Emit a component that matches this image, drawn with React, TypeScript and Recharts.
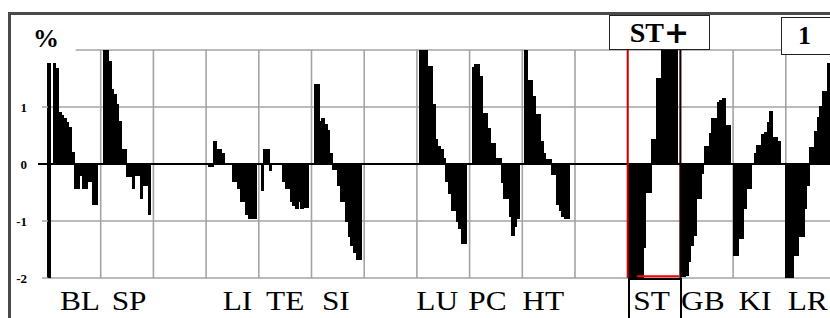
import React from 'react';
import { ComposedChart, Bar, XAxis, YAxis, ReferenceLine } from 'recharts';

// Segment (meridian) labels along the bottom; '' = empty segment
const SEGMENTS = ['BL', 'SP', '', 'LI', 'TE', 'SI', '', 'LU', 'PC', 'HT', '', 'ST', 'GB', 'KI', 'LR'];
const SLOTS_PER_SEGMENT = 20;

// Values (%) per segment (null = no bar)
const BL = [[-2, 1.77], null, 1.77, 1.68, 0.9, 0.85, 0.8, 0.72, 0.64, 0.2, -0.42, -0.42, -0.2, -0.42, -0.42, -0.31, -0.31, -0.7, -0.7, null];
const SP = [null, 2.0, 2.0, 1.8, 1.3, 1.22, 1.04, 0.74, 0.25, 0.25, -0.22, -0.22, -0.42, -0.2, -0.2, -0.6, -0.37, -0.37, -0.89, null];
const LI = [null, -0.05, -0.05, 0.39, 0.25, 0.25, 0.19, null, null, null, -0.31, -0.31, -0.42, -0.66, -0.66, -0.89, -0.95, -0.95, -0.95, null];
const TE = [null, -0.46, 0.25, 0.25, -0.12, null, null, null, null, -0.31, -0.42, -0.42, -0.66, -0.72, -0.78, -0.66, -0.78, -0.76, -0.76, null];
const SI = [null, 1.39, 1.39, 0.75, 0.79, 0.7, 0.58, 0.19, -0.1, -0.1, -0.37, -0.66, -0.66, -1.01, -1.27, -1.42, -1.55, -1.68, -1.68, null];
const LU = [null, 2.0, 2.0, 2.0, 1.71, 1.71, 1.04, 0.42, 0.3, 0.25, 0.1, -0.3, -0.51, -0.81, -0.81, -1.01, -1.13, -1.39, -1.39, null];
const PC = [null, 1.7, 1.75, 1.75, 1.53, 0.88, 0.88, 0.62, 0.36, 0.36, 0.1, 0.1, -0.33, -0.6, -0.6, -0.92, -1.25, -1.1, -0.95, null];
const HT = [null, 2.0, 1.47, 1.47, 1.18, 0.86, 0.86, 0.39, 0.19, 0.07, 0.07, -0.19, -0.19, -0.7, -0.81, -0.92, -0.95, -0.95, null, null];
const ST = [-2, -2, -2, -2, -2, -2, -1.47, -0.49, -0.49, 0.42, 0.42, 1.49, 1.49, 2, 2, 2, 2, 2, 2, null];
const GB = [-1.97, -1.97, -1.95, -1.71, -1.42, -1.25, -0.6, -0.6, -0.16, 0.3, 0.3, 0.54, 0.8, 0.8, 1.07, 1.12, 1.14, 0.67, 0.67, null];
const KI = [-1.6, -1.6, -1.3, -1.3, -0.78, -0.43, -0.43, null, 0.19, 0.33, 0.33, 0.51, 0.55, 0.72, 0.92, 0.46, 0.46, 0.39, null, null];
const LR = [-2, -2, -2, -1.6, -1.6, -1.27, -1.27, -0.78, -0.37, 0.28, 0.28, 0.56, 0.82, 1.0, 1.27, 1.27, 1.77, 1.9, 2.0, null];

const SERIES = [BL, SP, null, LI, TE, SI, null, LU, PC, HT, null, ST, GB, KI, LR];

const Y_TICKS = [-2, -1, 0, 1, 2];
const GRID_Y = [1, -1, -2];
const HIGHLIGHT = SEGMENTS.indexOf('ST');

// small horizontal nudges of the bottom labels (px)
const LABEL_NUDGE = [4.3, 0.7, 0, 3.7, -1.3, -3.3, 0, -7.3, -9.8, -6.8, 0, -3.8, -5.3, -5.8, -5.8];

const SERIF = "'Liberation Serif', 'Times New Roman', serif";

const data: any[] = [];
SERIES.forEach((arr, s) => {
  for (let i = 0; i < SLOTS_PER_SEGMENT; i++) {
    data.push({ slot: s * SLOTS_PER_SEGMENT + i, v: arr ? arr[i] : null });
  }
});
const LAST_SLOT = SEGMENTS.length * SLOTS_PER_SEGMENT - 1;
const segBounds = SEGMENTS.map((_, i) => i * SLOTS_PER_SEGMENT).filter((v) => v > 0);

const SlotTick = (props: any) => {
  const { x, y, payload } = props;
  const slot = payload.value;
  if (slot % SLOTS_PER_SEGMENT !== SLOTS_PER_SEGMENT / 2) return <g />;
  const idx = Math.floor(slot / SLOTS_PER_SEGMENT);
  const label = SEGMENTS[idx];
  if (!label) return <g />;
  return (
    <text
      transform={`translate(${x + LABEL_NUDGE[idx]},${y + 32}) scale(1.12,1)`}
      x={0}
      y={0}
      textAnchor="middle"
      fontFamily={SERIF}
      fontSize={28}
      fill="#000"
    >
      {label}
    </text>
  );
};

const YTick = (props: any) => {
  const { x, y, payload } = props;
  const v = payload.value;
  if (v === 2) {
    return (
      <text x={x - 2} y={y - 3} textAnchor="middle" fontFamily={SERIF} fontWeight="bold" fontSize={26} fill="#000">
        %
      </text>
    );
  }
  const zero = v === 0;
  return (
    <g>
      <line x1={x - (zero ? 10 : 6)} x2={x} y1={y} y2={y} stroke={zero ? '#000' : '#a6a6a6'} strokeWidth={zero ? 2 : 1.5} />
      <text x={x - 21} y={y + 4.5} textAnchor="end" fontFamily={SERIF} fontWeight="bold" fontSize={13} fill="#000">
        {v}
      </text>
    </g>
  );
};

export default function App() {
  return (
    <div style={{ position: 'relative', width: 830, height: 318, overflow: 'hidden', background: '#fff' }}>
      <style>{'html,body{margin:0;padding:0;overflow:hidden;background:#fff}'}</style>
      <ComposedChart
        width={840}
        height={318}
        data={data}
        margin={{ top: 50, right: 1.5, bottom: 0, left: 0 }}
        barCategoryGap={0}
        barGap={0}
      >
        <XAxis
          dataKey="slot"
          type="category"
          interval={0}
          height={40}
          tickSize={0}
          tickMargin={0}
          axisLine={false}
          tickLine={false}
          tick={SlotTick}
        />
        <YAxis
          type="number"
          domain={[-2, 2]}
          ticks={Y_TICKS}
          allowDataOverflow
          interval={0}
          width={48}
          tickSize={0}
          tickMargin={0}
          axisLine={false}
          tickLine={false}
          tick={YTick}
        />
        {segBounds.map((b) => (
          <ReferenceLine key={'v' + b} x={b} position="start" stroke="#a3a3a3" strokeWidth={1.6} zIndex={-50} />
        ))}
        {GRID_Y.map((g) => (
          <ReferenceLine key={'h' + g} y={g} stroke="#a3a3a3" strokeWidth={1.6} zIndex={-50} />
        ))}
        <ReferenceLine
          segment={[{ x: SLOTS_PER_SEGMENT / 2, y: 2 }, { x: LAST_SLOT, y: 2 }]}
          stroke="#a3a3a3"
          strokeWidth={1.6}
          zIndex={-50}
        />
        <ReferenceLine y={0} stroke="#000" strokeWidth={2} zIndex={-50} />
        <Bar
          dataKey="v"
          fill="#000"
          stroke="#000"
          strokeWidth={1.2}
          shapeRendering="crispEdges"
          barSize={3}
          isAnimationActive={false}
        />
        <ReferenceLine x={HIGHLIGHT * SLOTS_PER_SEGMENT} position="start" stroke="#d40000" strokeWidth={2} />
        <ReferenceLine x={(HIGHLIGHT + 1) * SLOTS_PER_SEGMENT} position="start" stroke="#1a0000" strokeWidth={2} />
        <ReferenceLine
          segment={[
            { x: HIGHLIGHT * SLOTS_PER_SEGMENT + 3, y: -1.97 },
            { x: (HIGHLIGHT + 1) * SLOTS_PER_SEGMENT - 1, y: -1.97 },
          ]}
          stroke="#ff0000"
          strokeWidth={2}
        />
      </ComposedChart>

      {/* outer frame */}
      <div
        style={{
          position: 'absolute', left: 8, top: 12, width: 900, height: 400,
          border: '3px solid #4a4a4a', boxSizing: 'border-box', pointerEvents: 'none',
        }}
      />
      {/* ST+ box */}
      <div
        style={{
          position: 'absolute', left: 609, top: 15, width: 101, height: 35, boxSizing: 'border-box',
          border: '1.5px solid #222', background: '#fff', display: 'flex', alignItems: 'center',
          justifyContent: 'center', lineHeight: 1,
        }}
      >
        <span style={{ fontFamily: SERIF, fontWeight: 'bold', fontSize: 28, color: '#000' }}>ST</span>
        <span style={{ fontFamily: "'DejaVu Sans', sans-serif", fontWeight: 'bold', fontSize: 30, color: '#000' }}>+</span>
      </div>
      {/* 1 box */}
      <div
        style={{
          position: 'absolute', left: 781, top: 17, width: 80, height: 38, boxSizing: 'border-box',
          border: '1.5px solid #222', background: '#fff', display: 'flex', alignItems: 'center',
          paddingLeft: 16, lineHeight: 1,
        }}
      >
        <span style={{ fontFamily: SERIF, fontWeight: 'bold', fontSize: 26, color: '#000' }}>1</span>
      </div>
      {/* ST label box */}
      <div
        style={{
          position: 'absolute', left: 628, top: 278, width: 54, height: 60, boxSizing: 'border-box',
          border: '2.5px solid #000', pointerEvents: 'none',
        }}
      />
    </div>
  );
}
